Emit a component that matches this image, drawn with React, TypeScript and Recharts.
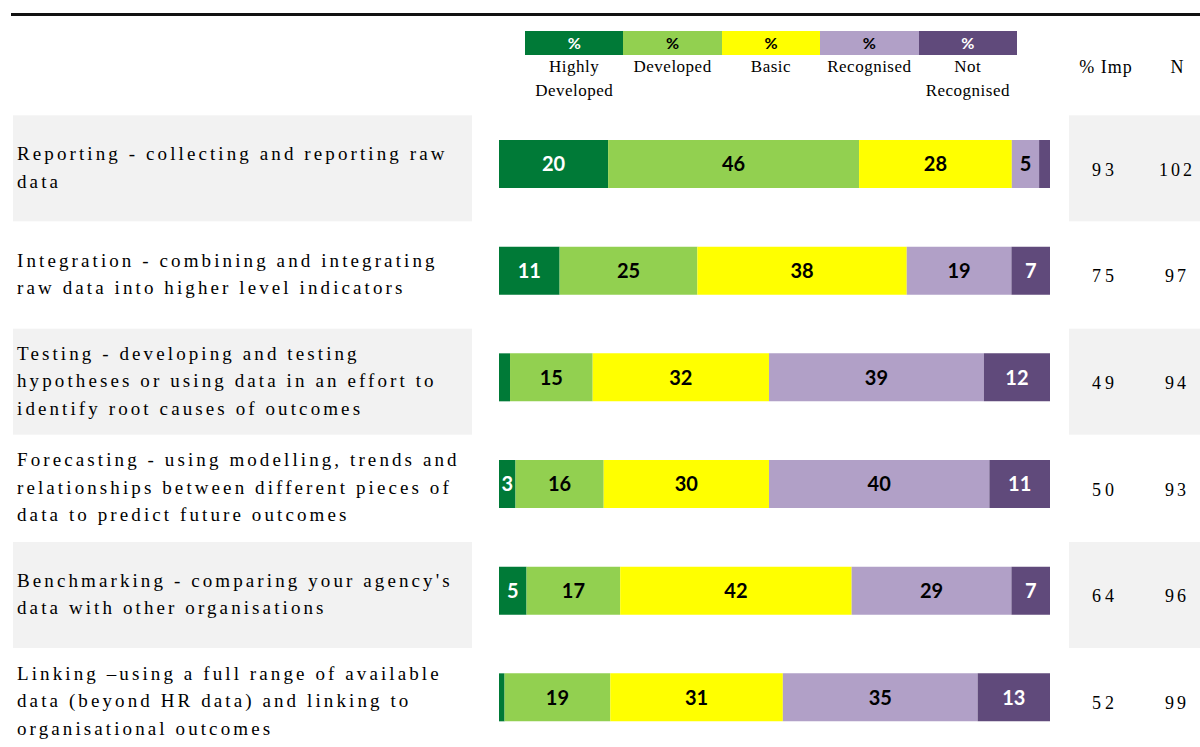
import React from 'react';
import { BarChart, Bar, XAxis, YAxis, LabelList, Legend } from 'recharts';

const categories = ['Reporting', 'Integration', 'Testing', 'Forecasting', 'Benchmarking', 'Linking'];

const labelLines: string[][] = [
  ['Reporting - collecting and reporting raw', 'data'],
  ['Integration - combining and integrating', 'raw data into higher level indicators'],
  ['Testing - developing and testing', 'hypotheses or using data in an effort to', 'identify root causes of outcomes'],
  ['Forecasting - using modelling, trends and', 'relationships between different pieces of', 'data to predict future outcomes'],
  ["Benchmarking - comparing your agency's", 'data with other organisations'],
  ['Linking \u2013using a full range of available', 'data (beyond HR data) and linking to', 'organisational outcomes'],
];

const highlyDeveloped = [20, 11, 2, 3, 5, 1];
const developed = [46, 25, 15, 16, 17, 19];
const basic = [28, 38, 32, 30, 42, 31];
const recognised = [5, 19, 39, 40, 29, 35];
const notRecognised = [2, 7, 12, 11, 7, 13];

const pctImp = [93, 75, 49, 50, 64, 52];
const nValues = [102, 97, 94, 93, 96, 99];

const seriesKeys = ['highly', 'developed', 'basic', 'recognised', 'notRecognised'];
const seriesNames = ['Highly Developed', 'Developed', 'Basic', 'Recognised', 'Not Recognised'];
const seriesColors = ['#007A37', '#92D050', '#FFFF00', '#B1A0C7', '#604A7B'];
const seriesTextColors = ['#FFFFFF', '#000000', '#000000', '#000000', '#FFFFFF'];

const data = categories.map((name, i) => ({
  name,
  highly: highlyDeveloped[i],
  developed: developed[i],
  basic: basic[i],
  recognised: recognised[i],
  notRecognised: notRecognised[i],
}));

const SERIF = '"Liberation Serif", "DejaVu Serif", serif';
const SANS = 'Lato, "Open Sans", sans-serif';

const makeLabel = (color: string) => (props: any) => {
  const { x, y, width, height, value } = props;
  if (value == null || Number(value) < 3) return null;
  return (
    <text
      x={Number(x) + Number(width) / 2}
      y={Number(y) + Number(height) / 2}
      dy="0.36em"
      textAnchor="middle"
      fill={color}
      fontFamily={SANS}
      fontWeight={700}
      fontSize={20}
    >
      {value}
    </text>
  );
};

const CategoryTick = (props: any) => {
  const { y, payload } = props;
  const i = categories.indexOf(payload.value);
  if (i < 0) return null;
  const lines = labelLines[i];
  const lh = 27.5;
  const startY = y + 3 - ((lines.length - 1) * lh) / 2;
  const shaded = i % 2 === 0;
  return (
    <g>
      {shaded && <rect x={13} y={y - 49} width={459} height={106} fill="#F2F2F2" />}
      {shaded && <rect x={1069} y={y - 49} width={131} height={106} fill="#F2F2F2" />}
      <text fontFamily={SERIF} fontSize={19} letterSpacing={3.1} fill="#000">
        {lines.map((l, k) => (
          <tspan key={k} x={17} y={startY + k * lh} dy="0.35em">
            {l}
          </tspan>
        ))}
      </text>
      <text x={1105} y={y + 5} dy="0.35em" textAnchor="middle" fontFamily={SERIF} fontSize={18} letterSpacing={4} fill="#000">
        {pctImp[i]}
      </text>
      <text x={1177} y={y + 5} dy="0.35em" textAnchor="middle" fontFamily={SERIF} fontSize={18} letterSpacing={3} fill="#000">
        {nValues[i]}
      </text>
    </g>
  );
};

const HeaderLegend = (props: any) => {
  const payload = [...(props.payload || [])].sort(
    (a: any, b: any) => seriesNames.indexOf(a.value) - seriesNames.indexOf(b.value)
  );
  const left0 = 525;
  const w = 98.4;
  return (
    <div style={{ position: 'relative', width: 1200, height: 110 }}>
      <div style={{ position: 'absolute', left: 11, top: 13, width: 1189, height: 3, background: '#111' }} />
      {payload.map((p: any, k: number) => {
        const idx = seriesNames.indexOf(p.value);
        return (
          <div key={k} style={{ position: 'absolute', left: left0 + k * w, top: 31, width: w }}>
            <div
              style={{
                height: 24,
                background: p.color,
                color: seriesTextColors[idx],
                fontFamily: SANS,
                fontWeight: 700,
                fontSize: 16,
                lineHeight: '24px',
                textAlign: 'center',
              }}
            >
              %
            </div>
            <div
              style={{
                fontFamily: SERIF,
                fontSize: 17,
                lineHeight: '24px',
                textAlign: 'center',
                color: '#000',
                letterSpacing: 0.5,
              }}
            >
              {p.value}
            </div>
          </div>
        );
      })}
      <div style={{ position: 'absolute', left: 1066, top: 55, width: 80, textAlign: 'center', fontFamily: SERIF, fontSize: 18, lineHeight: '24px', letterSpacing: 1 }}>
        % Imp
      </div>
      <div style={{ position: 'absolute', left: 1162, top: 55, width: 30, textAlign: 'center', fontFamily: SERIF, fontSize: 18, lineHeight: '24px' }}>
        N
      </div>
    </div>
  );
};

export default function App() {
  return (
    <div style={{ position: 'absolute', left: 0, top: 0, width: 1200, height: 747, overflow: 'hidden', background: '#fff' }}>
      <BarChart
        width={1200}
        height={751}
        data={data}
        layout="vertical"
        stackOffset="expand"
        margin={{ top: 111, right: 150, bottom: 0, left: 0 }}
        barSize={48}
      >
        <XAxis type="number" hide domain={[0, 1]} />
        <YAxis
          type="category"
          dataKey="name"
          width={499}
          axisLine={false}
          tickLine={false}
          tick={<CategoryTick />}
          interval={0}
        />
        <Legend
          layout="vertical"
          align="center"
          verticalAlign="middle"
          content={<HeaderLegend />}
          wrapperStyle={{ position: 'absolute', top: 0, left: 0, width: 1200, height: 110 }}
        />
        {seriesKeys.map((key, k) => (
          <Bar
            key={key}
            dataKey={key}
            name={seriesNames[k]}
            stackId="a"
            fill={seriesColors[k]}
            isAnimationActive={false}
          >
            <LabelList dataKey={key} position="center" content={makeLabel(seriesTextColors[k])} />
          </Bar>
        ))}
      </BarChart>
    </div>
  );
}
